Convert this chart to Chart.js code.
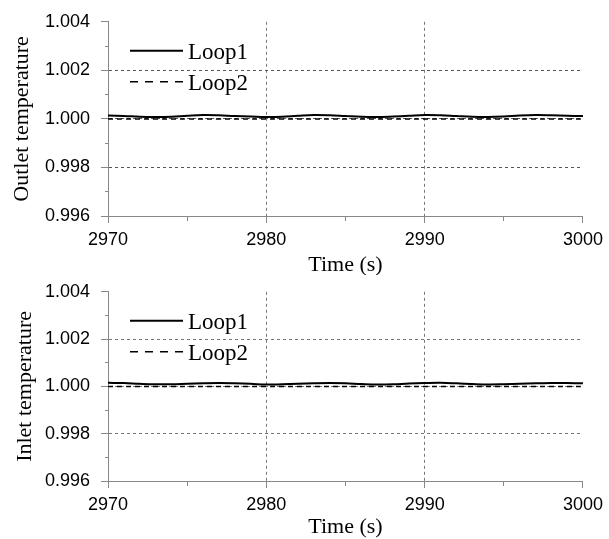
<!DOCTYPE html>
<html>
<head>
<meta charset="utf-8">
<script src="https://cdn.jsdelivr.net/npm/chart.js@4/dist/chart.umd.min.js"></script>
<style>
  html, body { margin: 0; padding: 0; background: #fff; }
  #wrap { position: relative; width: 609px; height: 539px; overflow: hidden; }
  canvas { position: absolute; left: 0; }
  #outletChart { top: 0; }
  #inletChart { top: 270px; }
</style>
</head>
<body>
<div id="wrap">
  <canvas id="outletChart" width="609" height="275"></canvas>
  <canvas id="inletChart" width="609" height="269"></canvas>
</div>
<script>
const times = [2970, 2971, 2972, 2973, 2974, 2975, 2976, 2977, 2978, 2979, 2980,
  2981, 2982, 2983, 2984, 2985, 2986, 2987, 2988, 2989, 2990,
  2991, 2992, 2993, 2994, 2995, 2996, 2997, 2998, 2999, 3000];

const outletLoop1 = [1.00014, 1.00012, 1.00009, 1.00008, 1.00009, 1.00013, 1.00016, 1.00015, 1.00012, 1.0001, 1.00008,
  1.00009, 1.00013, 1.00016, 1.00015, 1.00012, 1.00009, 1.00008, 1.0001, 1.00013, 1.00016,
  1.00015, 1.00012, 1.00009, 1.00008, 1.0001, 1.00014, 1.00016, 1.00015, 1.00013, 1.00012];
const outletLoop2 = [1.0, 1.0, 1.0, 1.0, 1.0, 1.0, 1.0, 1.0, 1.0, 1.0, 1.0,
  1.0, 1.0, 1.0, 1.0, 1.0, 1.0, 1.0, 1.0, 1.0, 1.0,
  1.0, 1.0, 1.0, 1.0, 1.0, 1.0, 1.0, 1.0, 1.0, 1.0];

const inletLoop1 = [1.00015, 1.00014, 1.00011, 1.00009, 1.00009, 1.00011, 1.00013, 1.00014, 1.00013, 1.00011, 1.00008,
  1.00009, 1.00011, 1.00013, 1.00014, 1.00013, 1.0001, 1.00008, 1.00009, 1.00012, 1.00014,
  1.00015, 1.00013, 1.0001, 1.00008, 1.00009, 1.00011, 1.00013, 1.00014, 1.00014, 1.00013];
const inletLoop2 = [1.0, 1.0, 1.0, 1.0, 1.0, 1.0, 1.0, 1.0, 1.0, 1.0, 1.0,
  1.0, 1.0, 1.0, 1.0, 1.0, 1.0, 1.0, 1.0, 1.0, 1.0,
  1.0, 1.0, 1.0, 1.0, 1.0, 1.0, 1.0, 1.0, 1.0, 1.0];

const seriesNames = ['Loop1', 'Loop2'];
const yMin = 0.996, yMax = 1.004, yStep = 0.001;
const xMin = 2970, xMax = 3000, xStep = 5;

const toPoints = (vals) => times.map((t, i) => ({ x: t, y: vals[i] }));

// legend drawn inside the plot, stacked, top-left
const insideLegend = {
  id: 'insideLegend',
  afterDraw(chart) {
    const { ctx, chartArea } = chart;
    chart.data.datasets.forEach((ds, i) => {
      const y = chartArea.top + 29 + i * 31;
      const x0 = chartArea.left + 22;
      ctx.save();
      ctx.strokeStyle = ds.borderColor;
      ctx.lineWidth = ds.borderWidth;
      ctx.setLineDash(ds.legendDash || []);
      ctx.beginPath();
      ctx.moveTo(x0, y);
      ctx.lineTo(x0 + 53, y);
      ctx.stroke();
      ctx.setLineDash([]);
      ctx.fillStyle = '#000';
      ctx.font = '23px "Liberation Serif", "Times New Roman", serif';
      ctx.textBaseline = 'middle';
      ctx.fillText(ds.label, x0 + 58, y + 2);
      ctx.restore();
    });
  }
};

const makeChart = (id, title, loop1, loop2, opts) => {
  const ctx = document.getElementById(id).getContext('2d');
  return new Chart(ctx, {
    type: 'line',
    data: {
      datasets: [
        {
          label: seriesNames[0],
          data: toPoints(loop1),
          borderColor: '#000',
          borderWidth: 2,
          pointRadius: 0,
          tension: 0.4,
          legendDash: [],
        },
        {
          label: seriesNames[1],
          data: toPoints(loop2),
          borderColor: '#000',
          borderWidth: 1.5,
          borderDash: [5, 4],
          pointRadius: 0,
          tension: 0.4,
          legendDash: [8, 7],
        },
      ],
    },
    options: {
      responsive: false,
      animation: false,
      layout: { padding: { top: opts.top, right: 23, left: 0, bottom: 0 } },
      plugins: {
        legend: { display: false },
        tooltip: { enabled: false },
      },
      scales: {
        x: {
          type: 'linear',
          min: xMin,
          max: xMax,
          afterFit: (scale) => { scale.height = opts.xHeight; },
          ticks: {
            stepSize: xStep,
            autoSkip: false,
            maxRotation: 0,
            padding: 6,
            color: '#000',
            font: { family: '"Liberation Sans", Arial, sans-serif', size: 18 },
            callback: (v) => (v % 10 === 0 ? String(v) : ''),
          },
          grid: {
            color: (c) => (c.tick && (c.tick.value === 2980 || c.tick.value === 2990) ? '#777' : 'rgba(0,0,0,0)'),
            tickColor: '#888',
            tickLength: 7,
            tickBorderDash: (c) => (c.tick && c.tick.value % 10 !== 0 ? [4, 20] : []),
          },
          border: { color: '#888', width: 1, dash: [3, 3] },
          title: {
            display: true,
            text: 'Time (s)',
            color: '#000',
            font: { family: '"Liberation Serif", "Times New Roman", serif', size: 22, lineHeight: 0.9 },
            padding: { top: 0, bottom: opts.xTitleBottom },
          },
        },
        y: {
          min: yMin,
          max: yMax,
          afterFit: (scale) => { scale.width = 108; },
          ticks: {
            stepSize: yStep,
            autoSkip: false,
            padding: 11,
            color: '#000',
            font: { family: '"Liberation Sans", Arial, sans-serif', size: 18 },
            callback: (v) => (Math.round(v * 1000) % 2 === 0 ? v.toFixed(3) : ''),
          },
          grid: {
            color: (c) => {
              const k = c.tick ? Math.round(c.tick.value * 1000) : 0;
              return (k === 998 || k === 1000 || k === 1002) ? opts.hGrid : 'rgba(0,0,0,0)';
            },
            tickColor: '#888',
            tickLength: 7,
            tickBorderDash: (c) => (c.tick && Math.round(c.tick.value * 1000) % 2 !== 0 ? [0, 4, 4, 20] : []),
          },
          border: { color: '#888', width: 1, dash: [3, 3] },
          title: {
            display: true,
            text: title,
            color: '#000',
            font: { family: '"Liberation Serif", "Times New Roman", serif', size: 22, lineHeight: 0.9 },
            padding: { top: opts.yTitleTop, bottom: 0 },
          },
        },
      },
    },
    plugins: [insideLegend],
  });
};

makeChart('outletChart', 'Outlet temperature', outletLoop1, outletLoop2,
  { top: 20, xHeight: 59, xTitleBottom: 0, yTitleTop: 12, hGrid: '#555' });
makeChart('inletChart', 'Inlet temperature', inletLoop1, inletLoop2,
  { top: 15, xHeight: 58, xTitleBottom: 2, yTitleTop: 15, hGrid: '#777' });
</script>
</body>
</html>
